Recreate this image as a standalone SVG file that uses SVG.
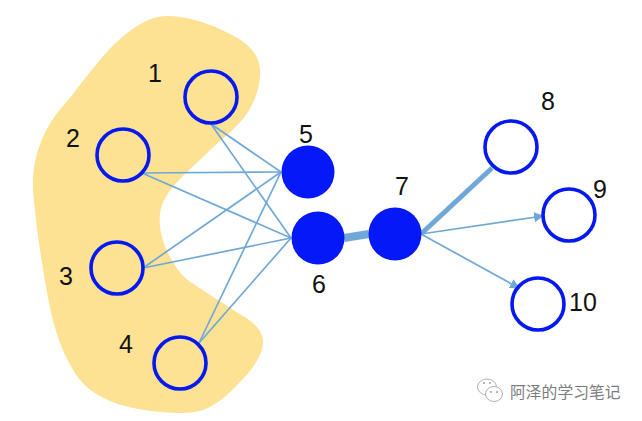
<svg xmlns="http://www.w3.org/2000/svg" width="642" height="421" viewBox="0 0 642 421">
<defs>
<style>
.open{fill:none;stroke:#0418f0;stroke-width:3.6}
.solid{fill:#0418f8}
.edge{stroke:#6fa8d8;stroke-width:1.7;fill:none}
.label{font-family:"Liberation Sans",Arial,sans-serif;font-size:25px;fill:#111;text-anchor:middle}
.wm{font-family:"Noto Sans CJK SC",sans-serif;font-size:15.8px;fill:#7c7c7c}
.bub{fill:#fff;stroke:#b0b0b0;stroke-width:1}
.eye{fill:#a0a0a0}
</style>
<marker id="arr" viewBox="0 0 10 10" refX="9" refY="5" markerWidth="10" markerHeight="10" orient="auto" markerUnits="userSpaceOnUse"><path d="M0 0L10 5L0 10Z" fill="#6fa8d8"/></marker>
</defs>
<rect width="642" height="421" fill="#fff"/>
<path id="blob" fill="#fde294" d="M167 16C185 16 205 22 222 30C243 40 259 50 260 70C261 85 255 102 246 115C236 129 220 140 205 155C190 170 170 185 162 205C157 220 160 238 170 257C177 270 183 277 192 283C205 292 220 301 235 311C250 320 263 328 263 342C263 355 252 370 240 382C228 395 213 409 195 412C175 415 140 411 118 404C98 397 82 387 72 368C60 348 52 322 47 292C41 260 36 225 33 190C32 165 38 145 48 127C56 112 65 105 76 90C90 72 105 52 120 39C135 26 150 16 167 16Z"/>
<g id="connectors">
<line class="edge" x1="211" y1="124" x2="281" y2="172"/>
<line class="edge" x1="211" y1="124" x2="291" y2="238"/>
<line class="edge" x1="142" y1="173" x2="281" y2="172"/>
<line class="edge" x1="142" y1="173" x2="291" y2="238"/>
<line class="edge" x1="143" y1="268" x2="281" y2="172"/>
<line class="edge" x1="143" y1="268" x2="291" y2="238"/>
<line class="edge" x1="199" y1="343" x2="281" y2="172"/>
<line class="edge" x1="199" y1="343" x2="291" y2="238"/>
<line x1="344" y1="238" x2="369" y2="234" stroke="#6fa8d8" stroke-width="8"/>
<line x1="421" y1="234" x2="492" y2="168" stroke="#6fa8d8" stroke-width="5"/>
<line class="edge" x1="421" y1="234" x2="543" y2="216" marker-end="url(#arr)"/>
<line class="edge" x1="421" y1="234" x2="519" y2="288" marker-end="url(#arr)"/>
</g>
<g id="node1"><circle class="open" cx="211" cy="97" r="26"/><text class="label" x="155" y="82">1</text></g>
<g id="node2"><circle class="open" cx="123" cy="155" r="26"/><text class="label" x="73" y="147">2</text></g>
<g id="node3"><circle class="open" cx="117" cy="268" r="26"/><text class="label" x="66" y="285">3</text></g>
<g id="node4"><circle class="open" cx="180" cy="363" r="26"/><text class="label" x="126" y="353">4</text></g>
<g id="node5"><circle class="solid" cx="308" cy="172" r="26.5"/><text class="label" x="306" y="143">5</text></g>
<g id="node6"><circle class="solid" cx="318" cy="238" r="26.5"/><text class="label" x="319" y="293">6</text></g>
<g id="node7"><circle class="solid" cx="395" cy="234" r="26.5"/><text class="label" x="402" y="195">7</text></g>
<g id="node8"><circle class="open" cx="511" cy="147" r="26"/><text class="label" x="548" y="110">8</text></g>
<g id="node9"><circle class="open" cx="569" cy="215" r="26"/><text class="label" x="600" y="198">9</text></g>
<g id="node10"><circle class="open" cx="538" cy="304" r="26"/><text class="label" x="583" y="311">10</text></g>
<g id="watermark">
<ellipse class="bub" cx="487" cy="387" rx="9.5" ry="8"/>
<ellipse class="bub" cx="494" cy="394" rx="8.5" ry="7.5"/>
<circle class="eye" cx="484" cy="383" r="1"/><circle class="eye" cx="490" cy="383" r="1"/>
<circle class="eye" cx="491" cy="392" r="1"/><circle class="eye" cx="497" cy="392" r="1"/>
<text class="wm" x="510" y="398">阿泽的学习笔记</text>
</g>
</svg>
